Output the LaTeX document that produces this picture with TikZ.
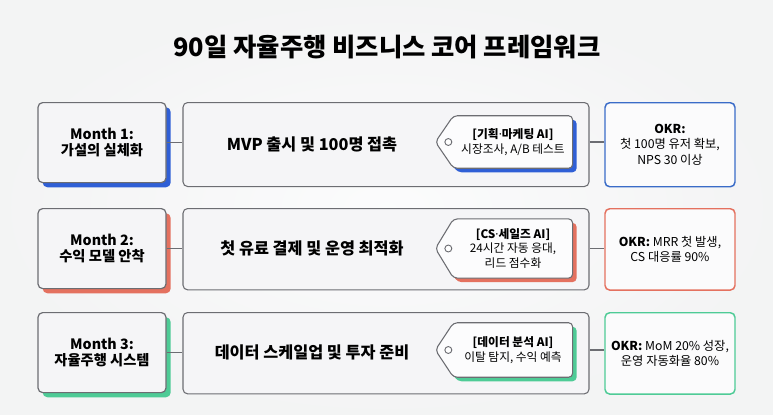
\documentclass[tikz,border=0pt]{standalone}
\usepackage{fontspec}
\setmainfont{Noto Sans CJK KR}
\newfontfamily\latinfont{Noto Sans}
\usetikzlibrary{positioning,calc,shadows}

\definecolor{bgcol}{HTML}{F3F4F6}
\definecolor{boxfill}{HTML}{F5F5F7}
\definecolor{linegray}{HTML}{6C6D72}
\definecolor{mblue}{HTML}{2F5FD6}
\definecolor{mred}{HTML}{E4715F}
\definecolor{mgreen}{HTML}{4ECB96}
\definecolor{okblue}{HTML}{3A6CC8}

\tikzset{
  monthbox/.style={rectangle,rounded corners=3.5pt,draw=linegray,fill=boxfill,
    line width=0.9pt,minimum width=96pt,minimum height=60pt,inner sep=0pt,
    align=center,anchor=north,font=\fontsize{10.7}{12.2}\selectfont\bfseries,
    general shadow={fill=#1,shadow xshift=3.5pt,shadow yshift=-3.5pt}},
  phasebox/.style={rectangle,rounded corners=3.5pt,draw=linegray,fill=boxfill,
    line width=0.8pt,minimum width=304.5pt,minimum height=#1,inner sep=0pt,anchor=north},
  phasetext/.style={font=\fontsize{12.2}{14}\selectfont\bfseries},
  tagtext/.style={minimum width=89pt,minimum height=#1,inner sep=0pt,align=center,
    font=\fontsize{8.8}{11}\selectfont},
  tagline/.style={draw=linegray,fill=white!70!boxfill,line width=0.8pt,rounded corners=3pt,
    general shadow={fill=#1,shadow xshift=3pt,shadow yshift=-3pt}},
  okrbox/.style={rectangle,rounded corners=3.5pt,draw=#1,fill=white!60!boxfill,
    line width=1.1pt,minimum width=97.5pt,inner sep=0pt,anchor=north,align=center,
    font=\fontsize{9.2}{11.4}\selectfont},
  conn/.style={draw=linegray,line width=0.8pt}
}

% Anhaenger um einen Textknoten
\newcommand\tagshape[2]{%
  \draw[tagline=#2] ([xshift=-13.5pt]#1.west) -- (#1.north west) -- (#1.north east)
    -- (#1.south east) -- (#1.south west) -- cycle;
  \draw[linegray,line width=0.7pt,fill=white] ([xshift=-3.8pt]#1.west) circle[radius=2.6pt];
}
\newcommand\pdot{{\latinfont\bfseries ·}}

\begin{document}
\begin{tikzpicture}[x=0.75pt,y=-0.75pt]

% Hintergrund
\useasboundingbox (0,0) rectangle (773,414);
\shade[inner color=white!70!bgcol,outer color=bgcol!85!gray!40] (0,0) rectangle (773,414);

% Titel
\node (title) at (387,47) {\fontsize{19}{22}\selectfont\bfseries 90일 자율주행 비즈니스 코어 프레임워크};

% Monat 1
\node[monthbox=mblue] (m1) at (102,102) {Month 1:\\가설의 실체화};
\node[phasebox=63pt] (p1) at (386,102) {};
\node[phasetext] (p1t) at (312,144) {MVP 출시 및 100명 접촉};
\node[tagtext=39pt] (t1) at (513,142) {};
\tagshape{t1}{mblue}
\node[tagtext=39pt] at (t1) {\textbf{[기획\pdot 마케팅 AI]}\\시장조사, A/B 테스트};
\node[okrbox=okblue,minimum height=63pt] (o1) at (670,102) {\textbf{OKR:}\\첫 100명 유저 확보,\\NPS 30 이상};
\draw[conn] (m1.east) -- (m1.east -| p1.west);
\draw[conn] (p1.east |- t1) -- (o1.west |- t1);

% Monat 2
\node[monthbox=mred] (m2) at (102,208) {Month 2:\\수익 모델 안착};
\node[phasebox=61pt] (p2) at (386,208) {};
\node[phasetext] (p2t) at (312,248) {첫 유료 결제 및 운영 최적화};
\node[tagtext=44pt] (t2) at (513,248.5) {};
\tagshape{t2}{mred}
\node[tagtext=44pt] at (t2) {\textbf{[CS\pdot 세일즈 AI]}\\24시간 자동 응대,\\리드 점수화};
\node[okrbox=mred,minimum height=61pt] (o2) at (670,208) {\textbf{OKR:} MRR 첫 발생,\\CS 대응률 90\%};
\draw[conn] (m2.east) -- (m2.east -| p2.west);
\draw[conn] (p2.east |- t2) -- (o2.west |- t2);

% Monat 3
\node[monthbox=mgreen] (m3) at (102,312) {Month 3:\\자율주행 시스템};
\node[phasebox=61pt] (p3) at (386,312) {};
\node[phasetext] (p3t) at (312,352) {데이터 스케일업 및 투자 준비};
\node[tagtext=40.5pt] (t3) at (513,350) {};
\tagshape{t3}{mgreen}
\node[tagtext=40.5pt] at (t3) {\textbf{[데이터 분석 AI]}\\이탈 탐지, 수익 예측};
\node[okrbox=mgreen,minimum height=61pt] (o3) at (670,312) {\textbf{OKR:} MoM 20\% 성장,\\운영 자동화율 80\%};
\draw[conn] (m3.east) -- (m3.east -| p3.west);
\draw[conn] (p3.east |- t3) -- (o3.west |- t3);

\end{tikzpicture}
\end{document}
